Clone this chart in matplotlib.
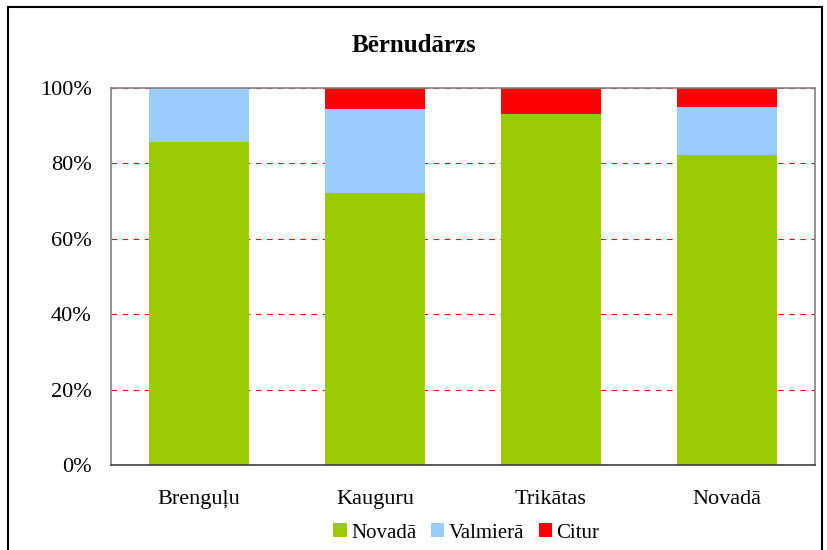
import matplotlib.pyplot as plt
from matplotlib.patches import Rectangle

# Dati
kategorijas = ['Brenguļu', 'Kauguru', 'Trikātas', 'Novadā']
novada = [85.7, 72.2, 93.1, 82.3]
valmiera = [14.3, 22.2, 0.0, 12.7]
citur = [0.0, 5.6, 6.9, 5.0]

plt.rcParams['font.family'] = ['Liberation Serif', 'DejaVu Serif']

fig = plt.figure(figsize=(8.27, 5.5), dpi=100)
ax = fig.add_axes([0.1342, 0.1545, 0.8513, 0.6855])

x = range(len(kategorijas))
w = 0.57
ax.bar(x, novada, w, color='#99CC00', label='Novadā', zorder=2)
ax.bar(x, valmiera, w, bottom=novada, color='#99CCFF', label='Valmierā', zorder=2)
bottom2 = [a + b for a, b in zip(novada, valmiera)]
ax.bar(x, citur, w, bottom=bottom2, color='#FF0000', label='Citur', zorder=2)

ax.set_xlim(-0.5, len(kategorijas) - 0.5)
ax.set_ylim(0, 100)
ax.set_yticks(range(0, 101, 20))
ax.set_yticklabels([f'{v}%' for v in range(0, 101, 20)], fontsize=16)
ax.set_xticks(list(x))
ax.set_xticklabels(kategorijas, fontsize=16)
ax.tick_params(axis='y', length=0, pad=14)
ax.tick_params(axis='x', length=0, pad=18)
ax.yaxis.grid(True, color='#FF0000', linestyle=(0, (5, 5)), linewidth=0.8, zorder=1)
for s in ax.spines.values():
    s.set_color('#808080')
    s.set_linewidth(1.2)
ax.spines['bottom'].set_color('#404040')

fig.text(0.5, 0.918, 'Bērnudārzs', ha='center', va='center', fontsize=18, fontweight='bold')

fig.legend(loc='center', bbox_to_anchor=(0.564, 0.031), ncol=3, frameon=False,
           fontsize=15, handlelength=0.65, handleheight=0.65, handletextpad=0.2,
           columnspacing=0.7)

fig.patches.append(Rectangle((0.0095, -0.05), 0.985, 1.037, transform=fig.transFigure,
                             fill=False, edgecolor='black', linewidth=1.5))

fig.savefig('out.png', dpi=100)
